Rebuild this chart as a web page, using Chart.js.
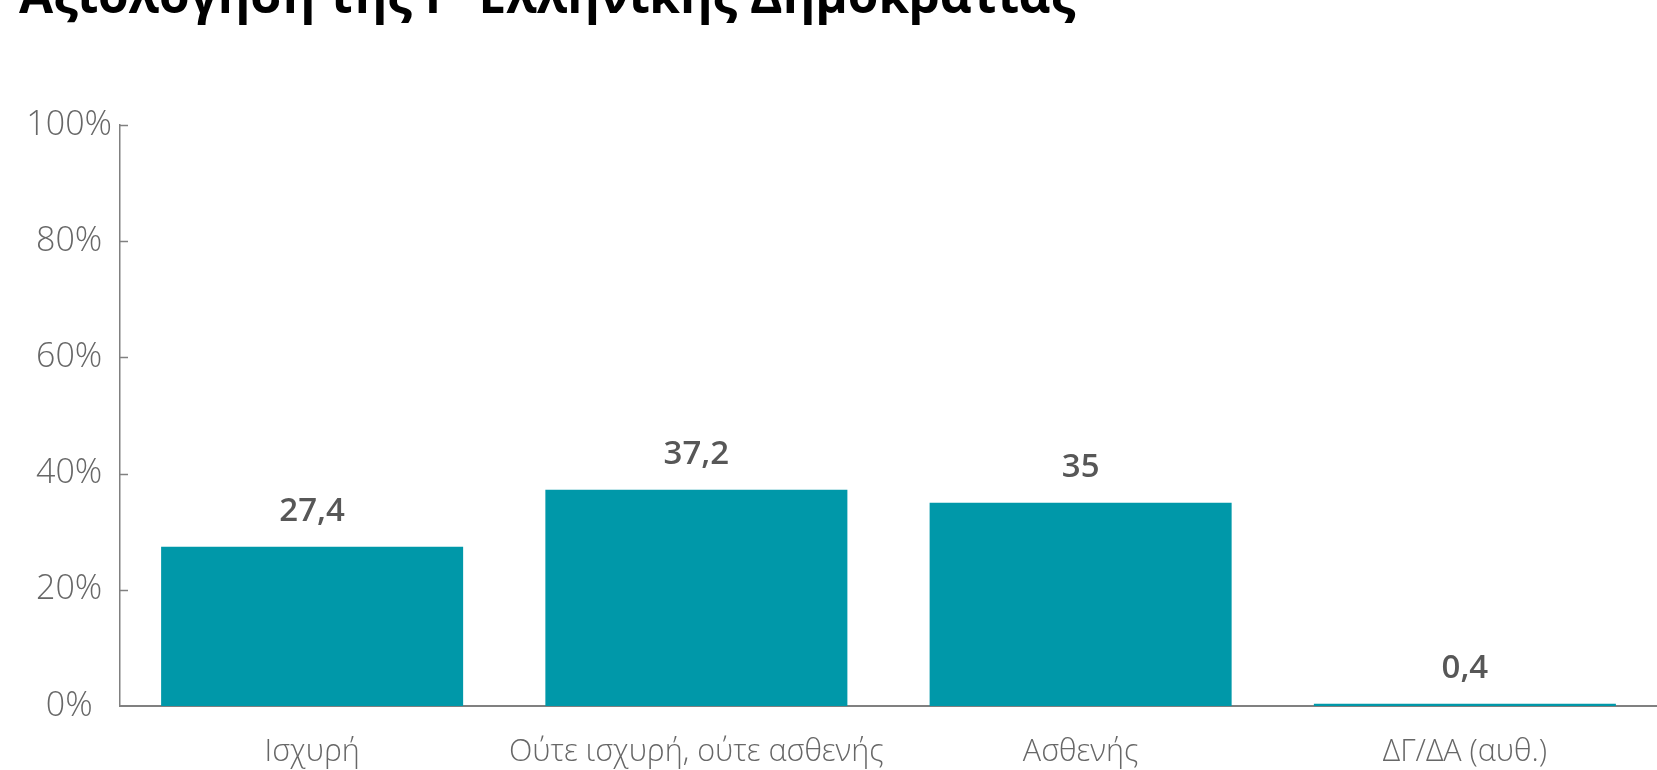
<!DOCTYPE html>
<html>
<head>
<meta charset="utf-8">
<script src="https://cdn.jsdelivr.net/npm/chart.js@4"></script>
<style>
html,body{margin:0;padding:0;background:#fff;}
#wrap{position:relative;width:1657px;height:770px;}
</style>
</head>
<body>
<div id="wrap"><canvas id="c" width="1657" height="770"></canvas></div>
<script>
const title = "Αξιολόγηση της Γ' Ελληνικής Δημοκρατίας";
const categories = ["Ισχυρή", "Ούτε ισχυρή, ούτε ασθενής", "Ασθενής", "ΔΓ/ΔΑ (αυθ.)"];
const values = [27.4, 37.2, 35, 0.4];
const valueLabels = ["27,4", "37,2", "35", "0,4"];
const yTicks = [0, 20, 40, 60, 80, 100];

const barColor = '#0098a9';
const axisColor = '#808080';
const textColor = '#676767';

const titlePlugin = {
  id: 'titlePlugin',
  afterDraw(chart) {
    const ctx = chart.ctx;
    ctx.save();
    ctx.fillStyle = '#000';
    ctx.font = 'bold 49.5px "Open Sans", sans-serif';
    ctx.textBaseline = 'alphabetic';
    ctx.textAlign = 'left';
    ctx.fillText(title, 19, 13);
    ctx.restore();
  }
};

const valuePlugin = {
  id: 'valuePlugin',
  afterDatasetsDraw(chart) {
    const ctx = chart.ctx;
    const meta = chart.getDatasetMeta(0);
    ctx.save();
    ctx.fillStyle = '#575757';
    ctx.font = '600 33px "Open Sans", sans-serif';
    ctx.textAlign = 'center';
    ctx.textBaseline = 'alphabetic';
    meta.data.forEach((bar, i) => {
      ctx.fillText(valueLabels[i], bar.x, bar.y - 26);
    });
    ctx.restore();
  }
};

const tickPlugin = {
  id: 'tickPlugin',
  afterDraw(chart) {
    const ctx = chart.ctx;
    const y = chart.scales.y;
    const x0 = chart.chartArea.left;
    ctx.save();
    ctx.strokeStyle = axisColor;
    ctx.lineWidth = 1.5;
    yTicks.forEach(v => {
      if (v === 0) return;
      const py = Math.round(y.getPixelForValue(v)) + 0.5;
      ctx.beginPath();
      ctx.moveTo(x0, py);
      ctx.lineTo(x0 + 8, py);
      ctx.stroke();
    });
    ctx.restore();
  }
};

new Chart(document.getElementById('c'), {
  type: 'bar',
  data: {
    labels: categories,
    datasets: [{
      data: values,
      backgroundColor: barColor,
      borderWidth: 0,
      categoryPercentage: 1.0,
      barPercentage: 0.786
    }]
  },
  options: {
    responsive: false,
    animation: false,
    events: [],
    layout: { padding: { top: 125, right: 0, left: 0, bottom: 0 } },
    plugins: {
      legend: { display: false },
      tooltip: { enabled: false },
      title: { display: false }
    },
    scales: {
      x: {
        grid: { display: false, drawTicks: false },
        border: { display: true, color: axisColor, width: 2 },
        ticks: {
          color: textColor,
          font: { family: '"Open Sans", sans-serif', size: 30.5, weight: 300 },
          padding: 28,
          maxRotation: 0,
          autoSkip: false
        },
        afterFit(scale) { scale.height = 64; }
      },
      y: {
        min: 0,
        max: 100,
        grid: { display: false, drawTicks: false },
        border: { display: true, color: axisColor, width: 1.5 },
        ticks: {
          stepSize: 20,
          color: textColor,
          font: { family: '"Open Sans", sans-serif', size: 34, weight: 300 },
          padding: 8,
          crossAlign: 'center',
          callback: v => v + '%'
        },
        afterFit(scale) { scale.width = 120; }
      }
    }
  },
  plugins: [titlePlugin, valuePlugin, tickPlugin]
});
</script>
</body>
</html>
